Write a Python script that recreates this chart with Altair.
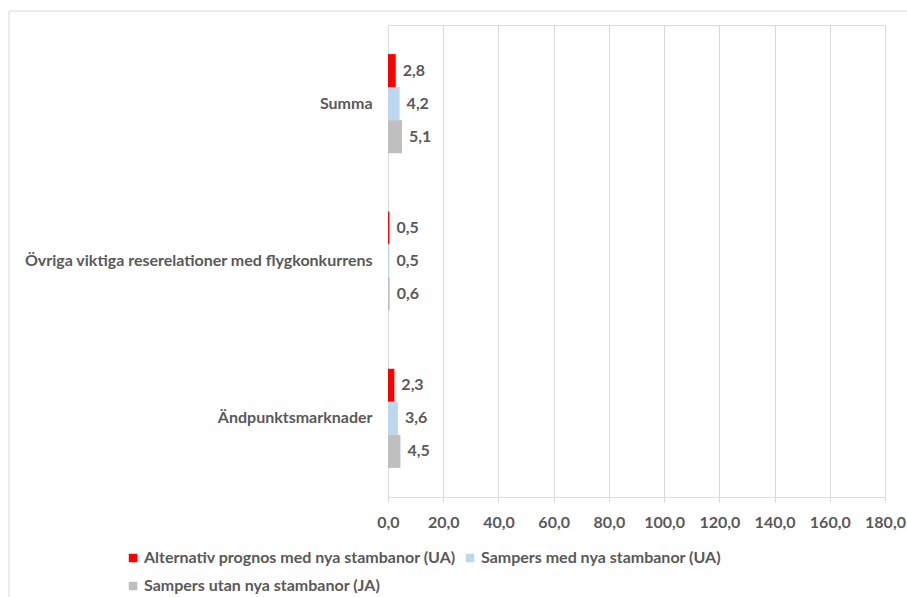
import altair as alt
import pandas as pd

categories = ["Summa", "Övriga viktiga reserelationer med flygkonkurrens", "Ändpunktsmarknader"]
series = [
    "Alternativ prognos med nya stambanor (UA)",
    "Sampers med nya stambanor (UA)",
    "Sampers utan nya stambanor (JA)",
]
colors = ["#FF0000", "#BDD7EE", "#BFBFBF"]
values = {
    series[0]: [2.8, 0.5, 2.3],
    series[1]: [4.2, 0.5, 3.6],
    series[2]: [5.1, 0.6, 4.5],
}

rows = []
for s in series:
    for c, v in zip(categories, values[s]):
        rows.append({"kategori": c, "serie": s, "varde": v})
df = pd.DataFrame(rows)

FONT = "Lato"
FS = 16
TXT = "#595959"
GRID = "#D9D9D9"

y_enc = alt.Y(
    "kategori:N",
    sort=categories,
    title=None,
    scale=alt.Scale(paddingInner=0.37, paddingOuter=0.185),
    axis=alt.Axis(
        labelFont=FONT, labelFontSize=FS, labelFontWeight="bold", labelColor=TXT,
        labelPadding=16, ticks=False, domain=False, labelLimit=420,
    ),
)
y_off = alt.YOffset("serie:N", sort=series, scale=alt.Scale(paddingInner=0, paddingOuter=0))

bars = alt.Chart(df).mark_bar().encode(
    x=alt.X(
        "varde:Q",
        title=None,
        scale=alt.Scale(domain=[0, 180], nice=False),
        axis=alt.Axis(
            values=list(range(0, 181, 20)),
            labelExpr="replace(format(datum.value, '.1f'), '.', ',')",
            labelFont=FONT, labelFontSize=FS, labelFontWeight="bold", labelColor=TXT,
            labelPadding=12, labelOverlap=False, labelBound=False, labelFlush=False,
            tickSize=5, tickColor=GRID, domain=False,
            grid=True, gridColor=GRID, gridWidth=1,
        ),
    ),
    y=y_enc,
    yOffset=y_off,
    color=alt.Color(
        "serie:N",
        sort=series,
        scale=alt.Scale(domain=series, range=colors),
        legend=alt.Legend(
            title=None, orient="none", legendX=-263, legendY=525, direction="horizontal",
            columns=2, columnPadding=6, rowPadding=12,
            symbolType="square", symbolSize=72, symbolStrokeWidth=0,
            labelFont=FONT, labelFontSize=FS, labelFontWeight="bold", labelColor=TXT,
            labelOffset=3, labelLimit=420,
        ),
    ),
)

labels = alt.Chart(df).transform_calculate(
    etikett="replace(format(datum.varde, '.1f'), '.', ',')"
).mark_text(
    align="left", baseline="middle", dx=7, font=FONT, fontSize=FS, fontWeight="bold", color=TXT
).encode(
    x="varde:Q",
    y=alt.Y("kategori:N", sort=categories),
    yOffset=y_off,
    text="etikett:N",
)

frame = alt.Chart(pd.DataFrame({"a": [0]})).mark_rect(
    fill=None, stroke=GRID, strokeWidth=1
).encode(
    x=alt.value(-379), x2=alt.value(540), y=alt.value(-14), y2=alt.value(600)
)

chart = alt.layer(frame, bars, labels).properties(
    width=497,
    height=472,
    autosize=alt.AutoSizeParams(type="none"),
    padding={"left": 388, "top": 25, "right": 22, "bottom": 100},
).configure_view(stroke=None).configure(background="white")

chart.save("out.html", embed_options={"renderer": "svg", "actions": False})
